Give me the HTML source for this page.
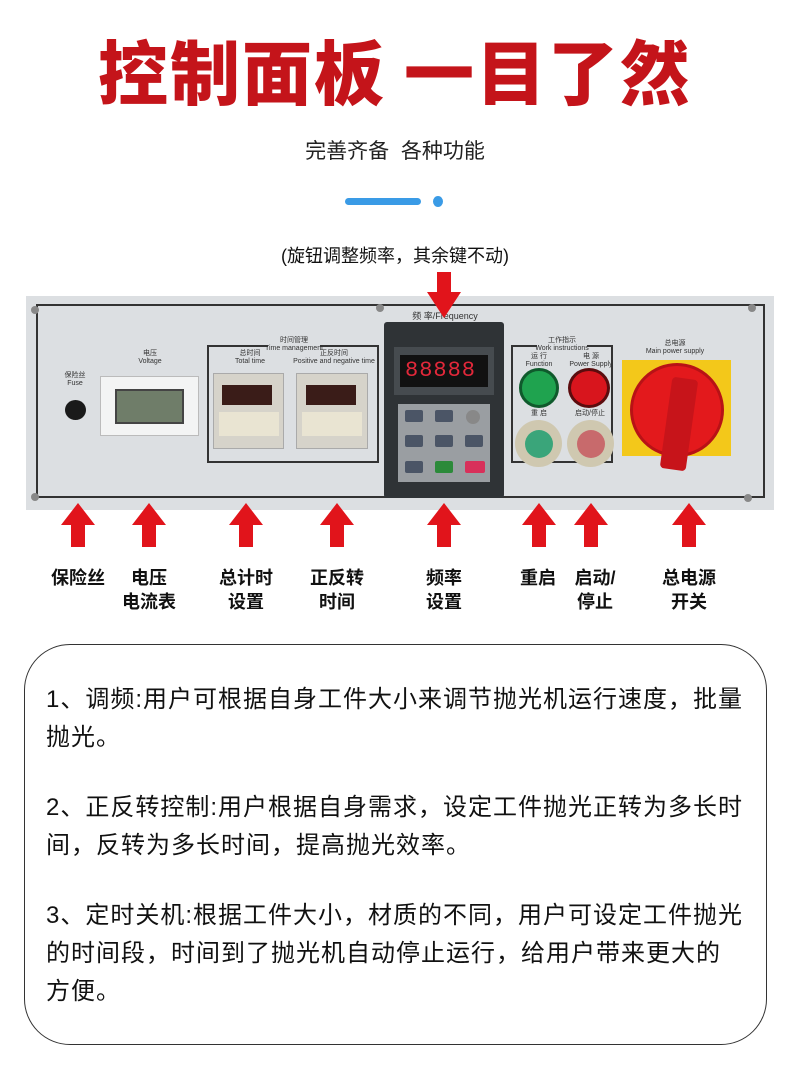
<!DOCTYPE html>
<html><head><meta charset="utf-8"><style>
*{margin:0;padding:0;box-sizing:border-box}
body{width:790px;height:1081px;background:#fff;position:relative;overflow:hidden;font-family:"Liberation Sans","Noto Sans CJK SC",sans-serif}
.a{position:absolute}
.t{position:absolute;white-space:nowrap}
.lbl{position:absolute;font-weight:bold;font-size:18px;line-height:24px;text-align:center;color:#111;transform:translateX(-50%);white-space:nowrap}
.sm{position:absolute;font-size:7px;color:#333;text-align:center;white-space:nowrap;line-height:8px}
.p div{white-space:nowrap}
</style></head><body>
<div class="t" style="left:0;width:790px;top:28px;text-align:center;font-size:70px;font-weight:900;color:#c4141a;line-height:84px;letter-spacing:2px;font-family:'Noto Sans CJK SC',sans-serif">控制面板 一目了然</div>
<div class="t" style="left:0;width:790px;top:138px;text-align:center;font-size:21px;color:#222;line-height:28px">完善齐备&nbsp;&nbsp;各种功能</div>
<div class="a" style="left:345px;top:198px;width:76px;height:7px;border-radius:4px;background:#3a9be6"></div>
<div class="a" style="left:433px;top:196px;width:10px;height:11px;border-radius:50%;background:#3a9be6"></div>
<div class="t" style="left:0;width:790px;top:244px;text-align:center;font-size:18px;color:#111;line-height:24px">(旋钮调整频率，其余键不动)</div>

<!-- panel -->
<div class="a" style="left:26px;top:296px;width:748px;height:214px;background:#dcdfe2"></div>
<div class="a" style="left:36px;top:304px;width:729px;height:194px;border:2px solid #333"></div>
<div class="a" style="left:31px;top:306px;width:8px;height:8px;border-radius:50%;background:#888"></div>
<div class="a" style="left:31px;top:493px;width:8px;height:8px;border-radius:50%;background:#888"></div>
<div class="a" style="left:376px;top:304px;width:8px;height:8px;border-radius:50%;background:#888"></div>
<div class="a" style="left:748px;top:304px;width:8px;height:8px;border-radius:50%;background:#888"></div>
<div class="a" style="left:744px;top:494px;width:8px;height:8px;border-radius:50%;background:#888"></div>
<!-- fuse -->
<div class="sm" style="left:60px;top:372px;width:30px">保险丝<br>Fuse</div>
<div class="a" style="left:65px;top:400px;width:21px;height:20px;border-radius:50%;background:#1a1a1a"></div>
<!-- voltmeter -->
<div class="sm" style="left:130px;top:350px;width:40px">电压<br>Voltage</div>
<div class="a" style="left:100px;top:376px;width:99px;height:60px;background:#f3f4f4;border:1px solid #bbb"></div>
<div class="a" style="left:115px;top:389px;width:69px;height:35px;background:#6f7d69;border:2px solid #444"></div>
<!-- time mgmt -->
<div class="a" style="left:207px;top:345px;width:172px;height:118px;border:2px solid #333"></div>
<div class="a" style="left:268px;top:336px;width:52px;height:16px;background:#dcdfe2"></div>
<div class="sm" style="left:262px;top:337px;width:64px">时间管理<br>Time management</div>
<div class="sm" style="left:220px;top:350px;width:60px">总时间<br>Total time</div>
<div class="sm" style="left:292px;top:350px;width:84px">正反时间<br>Positive and negative time</div>
<div class="a" style="left:213px;top:373px;width:71px;height:76px;background:#d6d3ca;border:1px solid #aaa"></div>
<div class="a" style="left:222px;top:385px;width:50px;height:20px;background:#3a1c18"></div>
<div class="a" style="left:219px;top:412px;width:60px;height:24px;background:#e9e4d2"></div>
<div class="a" style="left:296px;top:373px;width:72px;height:76px;background:#d6d3ca;border:1px solid #aaa"></div>
<div class="a" style="left:306px;top:385px;width:50px;height:20px;background:#3a1c18"></div>
<div class="a" style="left:302px;top:412px;width:60px;height:24px;background:#e9e4d2"></div>
<!-- drive -->
<div class="sm" style="left:405px;top:312px;width:80px;font-size:9px">频 率/Frequency</div>
<div class="a" style="left:384px;top:322px;width:120px;height:176px;background:#2f3336;border-radius:3px"></div>
<div class="a" style="left:394px;top:347px;width:100px;height:48px;background:#464b4f"></div>
<div class="a" style="left:400px;top:355px;width:88px;height:32px;background:#111"></div>
<div class="t" style="left:405px;top:358px;color:#e2283a;font-size:22px;font-family:'Liberation Mono',monospace;letter-spacing:1px;line-height:26px">88888</div>
<div class="a" style="left:398px;top:404px;width:92px;height:78px;background:#9a9ea2"></div>
<div class="a" style="left:405px;top:410px;width:18px;height:12px;background:#4b5566;border-radius:2px"></div>
<div class="a" style="left:435px;top:410px;width:18px;height:12px;background:#4b5566;border-radius:2px"></div>
<div class="a" style="left:405px;top:435px;width:18px;height:12px;background:#4b5566;border-radius:2px"></div>
<div class="a" style="left:435px;top:435px;width:18px;height:12px;background:#4b5566;border-radius:2px"></div>
<div class="a" style="left:465px;top:435px;width:18px;height:12px;background:#4b5566;border-radius:2px"></div>
<div class="a" style="left:405px;top:461px;width:18px;height:12px;background:#4b5566;border-radius:2px"></div>
<div class="a" style="left:435px;top:461px;width:18px;height:12px;background:#2c8a3a;border-radius:2px"></div>
<div class="a" style="left:465px;top:461px;width:20px;height:12px;background:#d8305a;border-radius:2px"></div>
<div class="a" style="left:466px;top:410px;width:14px;height:14px;border-radius:50%;background:#888"></div>
<!-- work ind -->
<div class="a" style="left:511px;top:345px;width:102px;height:118px;border:2px solid #333"></div>
<div class="a" style="left:537px;top:336px;width:50px;height:16px;background:#dcdfe2"></div>
<div class="sm" style="left:532px;top:337px;width:60px">工作指示<br>Work instructions</div>
<div class="sm" style="left:522px;top:353px;width:34px">运 行<br>Function</div>
<div class="sm" style="left:566px;top:353px;width:50px">电 源<br>Power Supply</div>
<div class="a" style="left:519px;top:368px;width:40px;height:40px;border-radius:50%;background:#1fa34f;border:3px solid #0f5a2c"></div>
<div class="a" style="left:568px;top:368px;width:42px;height:40px;border-radius:50%;background:#d8151d;border:3px solid #5b0c0e"></div>
<div class="sm" style="left:522px;top:410px;width:34px">重 启</div>
<div class="sm" style="left:564px;top:410px;width:52px">启动/停止</div>
<div class="a" style="left:515px;top:420px;width:47px;height:47px;border-radius:50%;background:#cfc8b0"></div>
<div class="a" style="left:525px;top:430px;width:28px;height:28px;border-radius:50%;background:#3aa57a"></div>
<div class="a" style="left:567px;top:420px;width:47px;height:47px;border-radius:50%;background:#cfc8b0"></div>
<div class="a" style="left:577px;top:430px;width:28px;height:28px;border-radius:50%;background:#c86a6c"></div>
<!-- main power -->
<div class="sm" style="left:640px;top:340px;width:70px">总电源<br>Main power supply</div>
<div class="a" style="left:622px;top:360px;width:109px;height:96px;background:#f3c81a"></div>
<div class="a" style="left:630px;top:363px;width:94px;height:94px;border-radius:50%;background:#e3191c;border:3px solid #b81216"></div>
<div class="a" style="left:666px;top:378px;width:26px;height:92px;background:#c7141a;transform:rotate(8deg);border-radius:4px"></div>

<!-- arrows -->
<svg class="a" style="left:0;top:0" width="790" height="560">
<g fill="#e1141b">
<polygon points="437,272 451,272 451,292 461,292 444,318 427,292 437,292"/>
<g id="ar"><polygon points="78,503 95,525 85,525 85,547 71,547 71,525 61,525"/></g>
<use href="#ar" x="71"/><use href="#ar" x="168"/><use href="#ar" x="259"/><use href="#ar" x="366"/><use href="#ar" x="461"/><use href="#ar" x="513"/><use href="#ar" x="611"/>
</g></svg>

<div class="lbl" style="left:78px;top:566px">保险丝</div>
<div class="lbl" style="left:149px;top:566px">电压<br>电流表</div>
<div class="lbl" style="left:246px;top:566px">总计时<br>设置</div>
<div class="lbl" style="left:337px;top:566px">正反转<br>时间</div>
<div class="lbl" style="left:444px;top:566px">频率<br>设置</div>
<div class="lbl" style="left:538px;top:566px">重启</div>
<div class="lbl" style="left:595px;top:566px">启动/<br>停止</div>
<div class="lbl" style="left:689px;top:566px">总电源<br>开关</div>

<div class="a" style="left:24px;top:644px;width:743px;height:401px;border:1.5px solid #333;border-radius:46px"></div>
<div class="a p" style="left:46px;top:681px;width:730px;font-size:24px;line-height:38px;color:#111;letter-spacing:1px">
<div>1、调频:用户可根据自身工件大小来调节抛光机运行速度，批量</div>
<div>抛光。</div>
<div style="margin-top:32px">2、正反转控制:用户根据自身需求，设定工件抛光正转为多长时</div>
<div>间，反转为多长时间，提高抛光效率。</div>
<div style="margin-top:32px">3、定时关机:根据工件大小，材质的不同，用户可设定工件抛光</div>
<div>的时间段，时间到了抛光机自动停止运行，给用户带来更大的</div>
<div>方便。</div>
</div>
</body></html>
